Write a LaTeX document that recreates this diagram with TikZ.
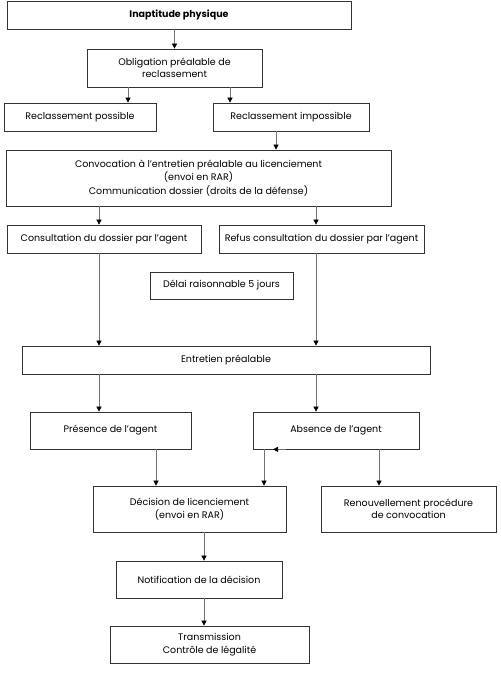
\documentclass[tikz,border=0pt]{standalone}
\usepackage{fontspec}
\setmainfont{Poppins}
\usetikzlibrary{arrows.meta}
\begin{document}
\begin{tikzpicture}[x=1pt, y=-1pt,
    box/.style={draw=black!80, line width=0.7pt, align=center, inner sep=2pt,
      font=\fontsize{9.5}{12.5}\selectfont},
    arr/.style={draw=black!55, line width=0.6pt,
      -{Triangle[length=5pt, width=5pt, color=black]}}]
      \useasboundingbox (0, 0) rectangle (500, 684);
      \node[box, font=\fontsize{9.5}{12.5}\selectfont\bfseries, minimum width=344pt, minimum height=28pt] (0) at (179, 15) {Inaptitude physique};
      \node[box, minimum width=175pt, minimum height=38pt] (1) at (174.5, 68) {Obligation préalable de\\reclassement};
      \node[box, minimum width=152pt, minimum height=28pt] (2) at (80, 117) {Reclassement possible};
      \node[box, minimum width=156pt, minimum height=28pt] (3) at (291, 117) {Reclassement impossible};
      \node[box, font=\fontsize{9.5}{13.5}\selectfont, minimum width=385pt, minimum height=56pt] (4) at (198.5, 178) {Convocation à l’entretien préalable au licenciement\\(envoi en RAR)\\Communication dossier (droits de la défense)};
      \node[box, minimum width=194pt, minimum height=28pt] (5) at (104, 239) {Consultation du dossier par l’agent};
      \node[box, minimum width=205pt, minimum height=28pt] (6) at (321.5, 239) {Refus consultation du dossier par l’agent};
      \node[box, minimum width=143pt, minimum height=27pt] (7) at (221.5, 285.5) {Délai raisonnable 5 jours};
      \node[box, minimum width=408pt, minimum height=28pt] (8) at (226, 360) {Entretien préalable};
      \node[box, minimum width=161pt, minimum height=37pt] (9) at (110.5, 430.5) {Présence de l’agent};
      \node[box, minimum width=166pt, minimum height=37pt] (10) at (336, 430.5) {Absence de l’agent};
      \node[box, minimum width=193pt, minimum height=46pt] (11) at (189.5, 509) {Décision de licenciement\\(envoi en RAR)};
      \node[box, minimum width=175pt, minimum height=46pt] (12) at (408.5, 509) {Renouvellement procédure\\de convocation};
      \node[box, minimum width=166pt, minimum height=37pt] (13) at (199, 579.5) {Notification de la décision};
      \node[box, minimum width=199pt, minimum height=37pt] (14) at (209.5, 644.5) {Transmission\\Contrôle de légalité};
      \draw[arr] (1.north |- 0.south) to (1.north);
      \draw[arr] ([xshift=-46.5pt]1.south) to ([xshift=-46.5pt]1.south |- 2.north);
      \draw[arr] ([xshift=55.5pt]1.south) to ([xshift=55.5pt]1.south |- 3.north);
      \draw[arr] ([xshift=-15pt]3.south) to ([xshift=-15pt]3.south |- 4.north);
      \draw[arr] ([xshift=-5pt]5.north |- 4.south) to ([xshift=-5pt]5.north);
      \draw[arr] ([xshift=-5.5pt]6.north |- 4.south) to ([xshift=-5.5pt]6.north);
      \draw[arr] ([xshift=-5pt]5.south) to ([xshift=-5pt]5.south |- 8.north);
      \draw[arr] ([xshift=-5.5pt]6.south) to ([xshift=-5.5pt]6.south |- 8.north);
      \draw[arr] ([xshift=-11.5pt]9.north |- 8.south) to ([xshift=-11.5pt]9.north);
      \draw[arr] ([xshift=-20pt]10.north |- 8.south) to ([xshift=-20pt]10.north);
      \draw[arr] ([xshift=45.5pt]9.south) to ([xshift=45.5pt]9.south |- 11.north);
      \draw[arr] ([xshift=-72pt]10.south) to ([xshift=-72pt]10.south |- 11.north);
      \draw[arr] ([xshift=-50pt]10.south) to ([xshift=-63pt]10.south);
      \draw[arr] ([xshift=43pt]10.south) to ([xshift=43pt]10.south |- 12.north);
      \draw[arr] ([xshift=5pt]13.north |- 11.south) to ([xshift=5pt]13.north);
      \draw[arr] ([xshift=5pt]13.south) to ([xshift=5pt]13.south |- 14.north);
    \end{tikzpicture}
\end{document}
